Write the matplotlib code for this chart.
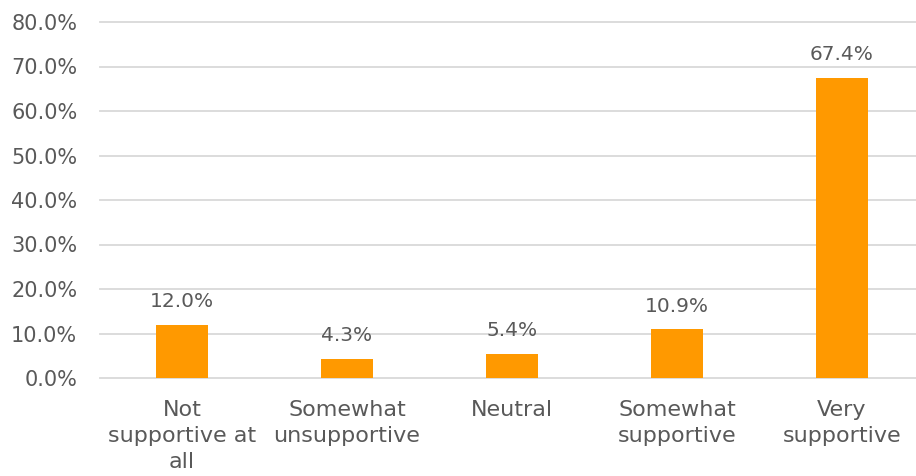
import matplotlib
matplotlib.use('Agg')
import matplotlib.pyplot as plt
from matplotlib.ticker import FuncFormatter, MultipleLocator

categories = ['Not\nsupportive at\nall', 'Somewhat\nunsupportive', 'Neutral',
              'Somewhat\nsupportive', 'Very\nsupportive']
shares = [12.0, 4.3, 5.4, 10.9, 67.4]

text_grey = '#595959'
bar_orange = '#FF9900'

plt.rcParams['font.family'] = ['DejaVu Sans']

fig = plt.figure(figsize=(9.16, 4.76), dpi=100)
ax = fig.add_axes([99.5 / 916, (476 - 378) / 476, 825 / 916, 356 / 476])

x = range(len(categories))
ax.bar(x, shares, width=0.315, color=bar_orange, zorder=3)

for xi, v in zip(x, shares):
    ax.annotate(f'{v:.1f}%', (xi, v), xytext=(0, 10), textcoords='offset points',
                ha='center', va='bottom', fontsize=14.5, color=text_grey)

ax.set_xlim(-0.5, len(categories) - 0.5)
ax.set_ylim(0, 80)
ax.yaxis.set_major_locator(MultipleLocator(10))
ax.yaxis.set_major_formatter(FuncFormatter(lambda v, _: f'{v:.1f}%'))
ax.set_xticks(list(x))
ax.set_xticklabels(categories, linespacing=1.38)

ax.grid(axis='y', color='#D9D9D9', linewidth=1.3, zorder=0)
for line in ax.get_ygridlines():
    line.set_clip_on(False)
for s in ax.spines.values():
    s.set_visible(False)
ax.tick_params(axis='both', length=0, colors=text_grey)
ax.tick_params(axis='y', pad=16, labelsize=15)
ax.tick_params(axis='x', pad=16, labelsize=16)

fig.savefig('out.png', dpi=100)
